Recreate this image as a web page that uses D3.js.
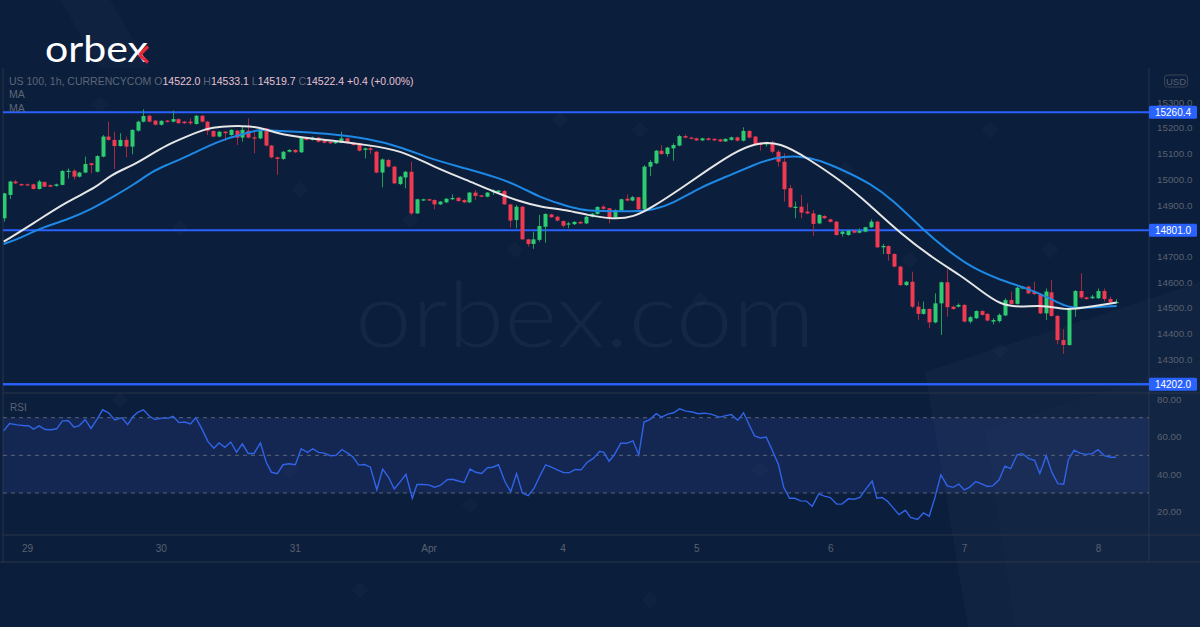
<!DOCTYPE html>
<html><head><meta charset="utf-8">
<script src="https://cdn.jsdelivr.net/npm/d3@7"></script>
<style>html,body{margin:0;padding:0;background:#0b1e3c;overflow:hidden}svg{display:block}</style>
</head><body><svg id="c" width="1200" height="627"></svg>
<script>
// ---------------- DATA ----------------
const opens = [14848,14939,14991,14981,14980,14980,14962,14989,14977,14974,14978,15029,15033,15010,15026,15062,15029,15088,15166,15153,15129,15153,15127,15189,15224,15247,15228,15212,15228,15224,15234,15224,15224,15215,15247,15224,15188,15166,15185,15172,15189,15162,15189,15163,15159,15198,15131,15085,15079,15107,15114,15105,15162,15153,15162,15150,15146,15140,15142,15159,15142,15140,15114,15120,15107,15026,15075,15049,14981,15007,15029,14867,14917,14922,14919,14902,14910,14922,14928,14919,14910,14948,14937,14932,14950,14950,14954,14902,14841,14893,14766,14748,14764,14815,14863,14854,14837,14825,14825,14834,14828,14854,14865,14893,14887,14852,14878,14924,14917,14930,14883,15049,15062,15111,15098,15120,15131,15168,15162,15159,15151,15159,15157,15155,15147,15153,15163,15150,15188,15166,15142,15136,15142,15107,15068,14965,14888,14893,14874,14867,14828,14857,14844,14835,14787,14783,14800,14792,14796,14813,14835,14735,14740,14709,14660,14588,14601,14504,14476,14495,14443,14517,14599,14504,14504,14511,14446,14459,14487,14476,14446,14448,14470,14530,14515,14575,14582,14563,14553,14478,14560,14468,14374,14355,14494,14565,14540,14537,14537,14565,14534,14522.0];
const highs = [14947,14994,14997,14984,14983,14983,14997,14992,14980,14983,15036,15042,15039,15029,15088,15064,15094,15172,15224,15185,15179,15166,15194,15228,15272,15250,15231,15230,15231,15267,15237,15227,15237,15250,15250,15227,15190,15188,15188,15194,15192,15205,15237,15185,15198,15200,15133,15088,15110,15117,15117,15166,15166,15166,15165,15153,15149,15149,15185,15162,15145,15142,15123,15129,15110,15081,15079,15052,15013,15033,15068,14924,14924,14924,14922,14915,14927,14941,14930,14922,14950,14958,14939,14950,14961,14958,14958,14904,14900,14896,14768,14796,14861,14867,14866,14857,14840,14834,14837,14837,14857,14869,14895,14900,14889,14883,14924,14941,14935,14932,15055,15075,15114,15133,15126,15140,15173,15174,15165,15162,15162,15162,15159,15158,15159,15166,15166,15202,15190,15168,15145,15146,15150,15114,15101,14978,14913,14939,14906,14880,14864,14860,14847,14837,14802,14803,14803,14809,14815,14844,14838,14748,14743,14712,14663,14604,14640,14524,14524,14498,14556,14601,14649,14508,14517,14514,14468,14490,14490,14479,14459,14478,14537,14563,14582,14585,14585,14601,14556,14575,14608,14472,14416,14497,14569,14634,14543,14550,14575,14575,14543,14533.1];
const lows = [14835,14923,14981,14974,14974,14960,14960,14969,14969,14971,14976,15003,14999,15007,15023,15023,15026,15085,15150,15039,15127,15085,15097,15185,15221,15221,15209,15209,15220,15221,15215,15215,15211,15212,15221,15172,15163,15163,15149,15169,15133,15146,15159,15101,15155,15127,15081,15017,15075,15104,15102,15102,15150,15150,15143,15139,15136,15137,15140,15139,15130,15108,15081,15098,15023,14968,15046,14981,14978,14965,14861,14865,14915,14915,14883,14900,14907,14919,14913,14907,14907,14919,14930,14930,14939,14948,14900,14812,14809,14764,14738,14729,14757,14753,14849,14836,14812,14809,14822,14825,14825,14851,14862,14880,14828,14849,14875,14914,14914,14880,14880,15013,15059,15095,15088,15072,15128,15159,15155,15149,15149,15150,15149,15145,15145,15150,15147,15147,15159,15134,15111,15127,15101,15049,14913,14887,14848,14848,14864,14779,14825,14845,14831,14780,14777,14780,14789,14789,14793,14810,14732,14709,14683,14657,14585,14585,14498,14452,14473,14420,14439,14394,14465,14492,14501,14443,14439,14456,14469,14447,14435,14442,14467,14512,14512,14572,14553,14550,14475,14452,14465,14358,14320,14352,14465,14533,14531,14534,14534,14524,14518,14519.7];
const closes = [14945,14991,14984,14976,14978,14962,14991,14971,14971,14980,15032,15033,15010,15026,15059,15055,15090,15166,15153,15129,15153,15127,15192,15224,15246,15224,15212,15227,15223,15234,15218,15218,15218,15247,15224,15188,15166,15185,15179,15192,15162,15192,15162,15158,15194,15131,15085,15079,15107,15114,15105,15163,15153,15162,15146,15142,15140,15146,15159,15142,15133,15111,15120,15114,15026,15077,15049,14984,15010,15029,14867,14922,14922,14917,14902,14913,14924,14927,14915,14910,14948,14935,14932,14948,14956,14956,14902,14839,14893,14766,14748,14766,14818,14865,14852,14839,14819,14828,14834,14828,14854,14866,14892,14885,14852,14880,14922,14917,14930,14883,15049,15067,15111,15098,15123,15133,15168,15162,15158,15151,15159,15153,15151,15147,15157,15163,15150,15188,15162,15137,15133,15140,15107,15068,14961,14891,14893,14870,14867,14826,14861,14848,14834,14783,14796,14800,14792,14799,14813,14835,14735,14740,14709,14660,14588,14601,14504,14476,14495,14443,14517,14599,14502,14495,14511,14446,14463,14487,14472,14450,14452,14472,14530,14515,14578,14582,14556,14553,14478,14563,14468,14374,14355,14494,14565,14540,14534,14543,14565,14534,14521,14522.4];

// moving averages read at points: [bar index, value]
const maWhite = [[0,14757],[5.1,14828],[10.8,14913],[16,14968],[18.3,15017],[22.3,15055],[25.1,15094],[28,15133],[31.4,15166],[34.9,15198],[37.2,15205],[41.2,15208],[44,15202],[46.9,15179],[50.9,15163],[56.6,15150],[62.4,15133],[68.1,15114],[73.8,15049],[79.5,14997],[84.1,14952],[88.7,14913],[92.1,14893],[96.7,14880],[100.2,14861],[104.7,14844],[108.2,14852],[111.6,14893],[116.8,14971],[121.3,15042],[125.3,15101],[128.8,15140],[133.4,15146],[138.5,15075],[143.7,14997],[148.8,14900],[154,14790],[159.7,14692],[164.3,14627],[167.7,14569],[171.2,14511],[174.6,14502],[178.6,14511],[182.6,14491],[184.9,14498],[191.2,14520]];
const maBlue = [[0,14748],[2.8,14770],[6.2,14809],[10.8,14841],[15.4,14887],[18.8,14932],[22.3,14978],[25.7,15033],[28,15055],[31.4,15088],[34.9,15127],[38.3,15159],[41.7,15179],[44,15194],[46.3,15189],[50.9,15184],[56.6,15175],[62.4,15159],[68.1,15127],[73.8,15075],[79.5,15042],[85.3,15003],[88.7,14971],[92.1,14930],[95.6,14904],[99,14880],[102.5,14876],[108.2,14874],[111.6,14880],[115,14906],[119.6,14968],[124.2,15010],[128.8,15055],[132.2,15085],[136.8,15091],[140.2,15075],[144.8,15029],[148.8,14984],[152.8,14919],[157.4,14815],[162,14725],[166.5,14653],[171.2,14608],[175.8,14575],[179.2,14543],[182.6,14502],[184.9,14498],[191.2,14507]];

// RSI read at points: [bar index, value]
const rsiPts = [[0,63.0],[1,66.9],[2.3,66.2],[3.6,65.7],[4.3,65.7],[5.1,63.9],[6.1,65.7],[7.1,63.7],[8.2,63.6],[9.1,64.1],[10.1,68.3],[11.1,68.4],[12.1,65.0],[13,65.8],[14,69.0],[15,64.3],[16,69.0],[17,74.2],[18,72.6],[19.1,68.8],[20.3,70.0],[21.3,66.3],[22.2,70.5],[23,72.8],[24,74.2],[25,70.9],[26,69.0],[27,69.8],[28.3,69.8],[29.1,70.7],[30.1,67.4],[31.1,67.7],[32.1,66.7],[33,70.0],[34,64.3],[35.1,57.3],[36.1,53.8],[37,56.6],[38,54.3],[39,57.1],[40,51.7],[41,56.1],[42,51.0],[43,51.0],[44.1,56.6],[45.1,46.3],[46,41.0],[47,40.3],[48,45.0],[49,45.5],[50.1,45.0],[51.1,53.5],[52.2,51.6],[53.1,53.5],[54.1,51.6],[55.1,51.2],[56.1,49.8],[57.1,50.0],[58.1,53.1],[59.1,51.2],[60,49.1],[61,44.8],[62,45.1],[63,43.7],[64.1,31.7],[65.1,42.7],[66.1,38.5],[67.1,32.1],[68.1,35.9],[69.1,39.9],[70.2,27.2],[71,34.5],[72,34.5],[73,34.3],[74,33.1],[75,34.0],[76.2,37.1],[77.1,37.3],[78.1,36.4],[79.1,35.6],[80.1,42.7],[81.1,41.0],[82.1,40.4],[83.1,43.4],[84,43.7],[85,45.0],[86.1,36.1],[87.1,30.7],[88.1,40.3],[89.1,30.0],[90.1,28.6],[91.1,32.4],[92.1,39.0],[93.1,45.0],[94,43.9],[95.2,42.2],[96.2,40.8],[97.2,40.8],[98.2,42.5],[99.2,42.3],[100.2,46.2],[101.3,48.4],[102.4,52.1],[103.1,51.6],[104,46.9],[104.9,50.3],[106,56.4],[107,56.4],[108.1,57.7],[109.1,50.3],[110,67.7],[111,69.0],[112.1,72.1],[113,70.3],[114.1,71.9],[115.1,72.6],[116.1,74.7],[117.2,73.5],[118.3,73.0],[119.3,72.1],[120.4,72.4],[121.5,71.9],[123,70.3],[123.9,71.0],[125,71.7],[126.1,68.6],[127.1,72.6],[128.1,66.0],[129,60.3],[130,59.2],[131,59.7],[132,53.0],[133.1,45.1],[134,33.0],[135,27.2],[135.9,27.2],[136.9,25.8],[137.9,25.7],[138.9,22.9],[140,29.5],[141,28.3],[142,27.6],[143.1,24.1],[144,24.1],[145.1,26.9],[146.1,26.7],[147.1,27.6],[148.1,32.1],[149.2,36.4],[150,27.2],[150.9,27.6],[151.8,25.7],[152.7,22.5],[153.8,18.5],[154.9,20.8],[155.8,17.0],[157,15.9],[158,19.4],[159,17.7],[160,27.8],[161,39.6],[162.1,33.8],[163.1,33.0],[164.1,34.7],[165,31.6],[165.9,33.0],[167,36.1],[167.9,35.0],[169,33.5],[169.9,33.8],[171,37.0],[172,44.3],[173,43.0],[174.1,50.3],[175,50.9],[176.1,48.3],[177.1,47.4],[178,40.4],[179.1,49.8],[180.1,40.8],[181.1,35.0],[182.1,34.7],[182.9,47.7],[183.9,52.8],[184.9,51.2],[186,50.5],[187,50.9],[188,53.0],[189.1,49.8],[190.1,49.0],[191.1,49.0]];

const dayLabels = ["29","30","31","Apr","4","5","6","7","8"];
const dayIndex = [4,27,50,73,96,119,142,165,188];
const priceTicks = [15300,15200,15100,15000,14900,14800,14700,14600,14500,14400,14300];
const rsiTicks = [80,60,40,20];
const rsiBands = [70,50,30];
const levels = [15260.4,14801.0,14202.0];
const header = {sym:"US 100, 1h, CURRENCYCOM", o:"14522.0", h:"14533.1", l:"14519.7", c:"14522.4", chg:"+0.4 (+0.00%)"};

// ---------------- LAYOUT ----------------
const W=1200,H=627;
const L=3, R=1149;
const pTop=68, pBot=393;
const rTop=393, rBot=535;
const axBot=562;
const FONT="'Liberation Sans', Arial, sans-serif";
const BG="#0b1e3c";
const svg=d3.select("#c");

const x=d3.scaleLinear().domain([0,191]).range([3.7,1115.5]);
const y=d3.scaleLinear().domain([14202,15260.4]).range([384.3,112.3]);
const yr=d3.scaleLinear().domain([30,70]).range([493,417.7]);

// background
svg.append("rect").attr("width",W).attr("height",H).attr("fill",BG);
const deco=svg.append("g");
deco.append("path").attr("d","M60,0 L110,0 L150,68 L100,68 Z").attr("fill","rgba(255,255,255,0.018)");
deco.append("path").attr("d","M925,372 L1200,282 L1200,627 L968,627 Z").attr("fill","rgba(255,255,255,0.022)");
deco.append("path").attr("d","M985,430 L1200,360 L1200,627 L1015,627 Z").attr("fill","rgba(255,255,255,0.012)");
[[100,105],[180,228],[300,190],[410,220],[515,250],[640,130],[700,300],[845,170],[990,130],[1050,250],[910,260],[120,400],[290,470],[470,505],[760,470],[1000,350],[360,590],[650,600],[560,120]].forEach(([cx,cy])=>{
  deco.append("rect").attr("x",cx-6).attr("y",cy-6).attr("width",12).attr("height",12)
    .attr("transform",`rotate(45,${cx},${cy})`).attr("fill","rgba(255,255,255,0.018)");
});

// logo
const logo=svg.append("text").attr("x",45).attr("y",62).attr("font-family","Lato, 'Open Sans', sans-serif")
  .attr("font-size",36).attr("font-weight",400).attr("fill","#ffffff").attr("textLength",103).attr("lengthAdjust","spacingAndGlyphs");
logo.append("tspan").text("orbe");
logo.append("tspan").text("x");
svg.append("line").attr("x1",148).attr("y1",46.5).attr("x2",139.5).attr("y2",55).attr("stroke","#e8283a").attr("stroke-width",3.2);
svg.append("line").attr("x1",139.5).attr("y1",55).attr("x2",148).attr("y2",62.5).attr("stroke","#e8283a").attr("stroke-width",3.2);

// watermark
svg.append("text").attr("x",355).attr("y",347).attr("font-family","Lato, sans-serif").attr("font-size",90).attr("font-weight",300)
  .attr("fill","rgba(255,255,255,0.045)").attr("textLength",460).attr("lengthAdjust","spacingAndGlyphs").text("orbex.com");

// pane borders
const gridC="#2b3548";
svg.append("line").attr("x1",L).attr("x2",L).attr("y1",pTop).attr("y2",axBot).attr("stroke",gridC);
svg.append("line").attr("x1",R).attr("x2",R).attr("y1",pTop).attr("y2",axBot).attr("stroke",gridC);
svg.append("line").attr("x1",L).attr("x2",1200).attr("y1",pBot).attr("y2",pBot).attr("stroke",gridC);
svg.append("line").attr("x1",L).attr("x2",1200).attr("y1",rBot).attr("y2",rBot).attr("stroke",gridC);
svg.append("line").attr("x1",0).attr("x2",1200).attr("y1",axBot).attr("y2",axBot).attr("stroke",gridC);

const defs=svg.append("defs");
defs.append("clipPath").attr("id","cp").append("rect").attr("x",L).attr("y",pTop).attr("width",R-L).attr("height",pBot-pTop);
defs.append("clipPath").attr("id","cr").append("rect").attr("x",L).attr("y",rTop).attr("width",R-L).attr("height",rBot-rTop);

// RSI pane
const rg=svg.append("g").attr("clip-path","url(#cr)");
rg.append("rect").attr("x",L).attr("width",R-L).attr("y",yr(70)).attr("height",yr(30)-yr(70)).attr("fill","rgba(70,90,200,0.16)");
rsiBands.forEach(v=>rg.append("line").attr("x1",L).attr("x2",R).attr("y1",yr(v)).attr("y2",yr(v))
  .attr("stroke","#5b6477").attr("stroke-dasharray","4,4").attr("stroke-width",1));
rg.append("path").datum(rsiPts).attr("fill","none").attr("stroke","#3063e6").attr("stroke-width",1.4)
  .attr("d",d3.line().x(d=>x(d[0])).y(d=>yr(d[1])));
svg.append("text").attr("x",10).attr("y",411).attr("font-family",FONT).attr("font-size",10).attr("fill","#5b6477").text("RSI");

// price pane
const pg=svg.append("g").attr("clip-path","url(#cp)");
levels.forEach(v=>pg.append("line").attr("x1",L).attr("x2",R).attr("y1",y(v)).attr("y2",y(v)).attr("stroke","#2962ff").attr("stroke-width",2));
svg.append("line").attr("x1",L).attr("x2",R).attr("y1",y(14202)).attr("y2",y(14202)).attr("stroke","#2962ff").attr("stroke-width",2);

const n=closes.length, bw=4;
const cg=pg.append("g");
const idx=d3.range(n);
const up=i=>closes[i]>=opens[i];
cg.selectAll(".w").data(idx).join("line")
  .attr("x1",i=>Math.round(x(i))+0.5).attr("x2",i=>Math.round(x(i))+0.5)
  .attr("y1",i=>y(highs[i])).attr("y2",i=>y(lows[i]))
  .attr("stroke",i=>up(i)?"#1f9e5a":"#a8283c").attr("stroke-width",1);
cg.selectAll(".b").data(idx).join("rect")
  .attr("x",i=>Math.round(x(i))+0.5-bw/2).attr("width",bw)
  .attr("y",i=>y(Math.max(opens[i],closes[i])))
  .attr("height",i=>Math.max(1.2,Math.abs(y(opens[i])-y(closes[i]))))
  .attr("fill",i=>up(i)?"#2ecc71":"#ef3a51");

const maLine=d3.line().curve(d3.curveBasis).x(d=>x(d[0])).y(d=>y(d[1]));
pg.append("path").datum(maBlue).attr("fill","none").attr("stroke","#1e88e5").attr("stroke-width",2).attr("d",maLine);
pg.append("path").datum(maWhite).attr("fill","none").attr("stroke","#e6e6e6").attr("stroke-width",2).attr("d",maLine);

// price axis
const axG=svg.append("g").attr("transform",`translate(${R+8},0)`);
axG.call(d3.axisRight(y).tickValues(priceTicks).tickSize(0).tickFormat(d3.format(".1f")));
axG.select(".domain").remove();
axG.selectAll("text").attr("font-family",FONT).attr("font-size",9.8).attr("fill","#59616f").attr("x",0);

const rAx=svg.append("g").attr("transform",`translate(${R+8},0)`);
rAx.call(d3.axisRight(yr).tickValues(rsiTicks).tickSize(0).tickFormat(d3.format(".2f")));
rAx.select(".domain").remove();
rAx.selectAll("text").attr("font-family",FONT).attr("font-size",9.8).attr("fill","#59616f").attr("x",0);

// USD box
svg.append("rect").attr("x",1164.5).attr("y",75).attr("width",23).attr("height",12).attr("rx",3)
  .attr("fill",BG).attr("stroke","#3a4356");
svg.append("text").attr("x",1176).attr("y",84.5).attr("text-anchor","middle").attr("font-family",FONT).attr("font-size",9.5).attr("fill","#59616f").text("USD");

// level labels
levels.forEach(v=>{
  svg.append("rect").attr("x",R).attr("y",y(v)-6.5).attr("width",48).attr("height",13).attr("rx",1.5).attr("fill","#2962ff");
  svg.append("text").attr("x",R+24).attr("y",y(v)+3.6).attr("text-anchor","middle").attr("font-family",FONT)
    .attr("font-size",10).attr("fill","#ffffff").text(d3.format(".1f")(v));
});

// time axis
const tg=svg.append("g").attr("transform",`translate(0,${rBot})`);
tg.call(d3.axisBottom(x).tickValues(dayIndex).tickSize(0).tickFormat((d,i)=>dayLabels[i]));
tg.select(".domain").remove();
tg.selectAll("text").attr("font-family",FONT).attr("font-size",10).attr("fill","#59616f").attr("y",10).attr("dy","0.71em");

// header
const hd=svg.append("text").attr("x",9).attr("y",85).attr("font-family",FONT).attr("font-size",10.5).attr("fill","#5d6676");
hd.append("tspan").text(header.sym+"  O");
hd.append("tspan").attr("fill","#e6c3d3").text(header.o);
hd.append("tspan").text("  H");
hd.append("tspan").attr("fill","#e6c3d3").text(header.h);
hd.append("tspan").text("  L");
hd.append("tspan").attr("fill","#e6c3d3").text(header.l);
hd.append("tspan").text("  C");
hd.append("tspan").attr("fill","#e6c3d3").text(header.c);
hd.append("tspan").attr("fill","#e6c3d3").text("  "+header.chg);
svg.append("text").attr("x",9).attr("y",98).attr("font-family",FONT).attr("font-size",10.5).attr("fill","#5d6676").text("MA");
svg.append("text").attr("x",9).attr("y",112).attr("font-family",FONT).attr("font-size",10.5).attr("fill","#5d6676").text("MA");
</script></body></html>
